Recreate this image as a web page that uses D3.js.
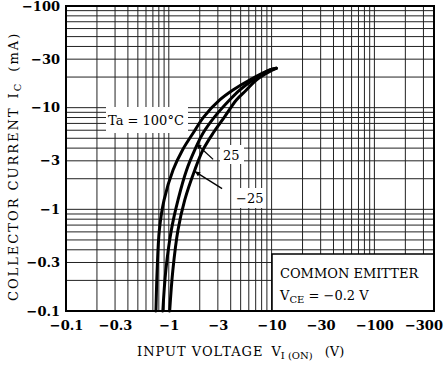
<!DOCTYPE html>
<html><head><meta charset="utf-8">
<script src="https://cdn.jsdelivr.net/npm/d3@7"></script>
<style>body{margin:0;background:#fff}</style>
</head><body>
<script>
const W = 444, H = 371;

// tick labels (magnitudes; drawn with a minus sign)
const xTicks = [0.1, 0.3, 1, 3, 10, 30, 100, 300];
const yTicks = [0.1, 0.3, 1, 3, 10, 30, 100];

// curves: |V_I(ON)| in V, |I_C| in mA
const v100 = [0.75, 0.77, 0.81, 0.9, 1.1, 1.36, 1.72, 2.2, 3.13, 4.21, 6.11, 9.57, 11.1];
const i100 = [0.1, 0.25, 0.63, 1.24, 2.44, 3.84, 5.6, 8.16, 11.9, 14.9, 18.7, 23.5, 24.4];
const v25 = [0.875, 0.935, 1.06, 1.23, 1.49, 1.79, 2.15, 2.8, 3.9, 4.89, 6.58, 9.2, 11.1];
const i25 = [0.1, 0.25, 0.63, 1.24, 2.44, 3.84, 5.6, 8.16, 11.9, 14.9, 18.7, 23.0, 24.4];
const vm25 = [1.02, 1.094, 1.23, 1.43, 1.79, 2.15, 2.69, 3.5, 4.54, 5.68, 7.1, 10.0, 11.1];
const im25 = [0.1, 0.25, 0.63, 1.24, 2.44, 3.84, 5.6, 8.16, 11.9, 14.9, 18.7, 23.2, 24.4];

const svg = d3.select("body").append("svg")
  .attr("width", W).attr("height", H)
  .style("font-family", "'DejaVu Serif', serif");

const x = d3.scaleLog().domain([0.1, 380]).range([66, 434]);
const y = d3.scaleLog().domain([0.1, 100]).range([311, 6]);

// log grid, 1..9 in every decade
let gx = [], gy = [];
for (let d of [0.1, 1, 10, 100]) for (let k = 1; k <= 9; k++) if (d * k <= 380) gx.push(d * k);
for (let d of [0.1, 1, 10]) for (let k = 1; k <= 9; k++) gy.push(d * k);
gy.push(100);

svg.append("g").selectAll("line").data(gx).join("line")
  .attr("x1", d => x(d)).attr("x2", d => x(d))
  .attr("y1", y(0.1)).attr("y2", y(100))
  .attr("stroke", "#222").attr("stroke-width", 1);
svg.append("g").selectAll("line").data(gy).join("line")
  .attr("y1", d => y(d)).attr("y2", d => y(d))
  .attr("x1", x(0.1)).attr("x2", x(380))
  .attr("stroke", "#222").attr("stroke-width", 1);

// white label boxes
const boxes = [
  [106, 107, 82, 26],
  [220, 145, 24, 19],
  [233, 188, 33, 20]
];
svg.append("g").selectAll("rect").data(boxes).join("rect")
  .attr("x", d => d[0]).attr("y", d => d[1]).attr("width", d => d[2]).attr("height", d => d[3])
  .attr("fill", "#fff");

// common emitter box
svg.append("rect").attr("x", 272).attr("y", 254)
  .attr("width", x(380) - 272).attr("height", y(0.1) - 254)
  .attr("fill", "#fff").attr("stroke", "#000").attr("stroke-width", 1.5);

// frame
svg.append("rect").attr("x", x(0.1)).attr("y", y(100))
  .attr("width", x(380) - x(0.1)).attr("height", y(0.1) - y(100))
  .attr("fill", "none").attr("stroke", "#000").attr("stroke-width", 2);

// curves
const line = d3.line().x(d => x(d[0])).y(d => y(d[1])).curve(d3.curveCatmullRom.alpha(0.5));
const curves = [d3.zip(v100, i100), d3.zip(v25, i25), d3.zip(vm25, im25)];
svg.append("g").selectAll("path").data(curves).join("path")
  .attr("d", line).attr("fill", "none").attr("stroke", "#000")
  .attr("stroke-width", 3).attr("stroke-linecap", "round");

// axes
const fmt = d => "\u2212" + d;
const ax = svg.append("g").attr("transform", `translate(0,${y(0.1)})`)
  .call(d3.axisBottom(x).tickValues(xTicks).tickFormat(fmt).tickSize(0).tickPadding(10));
const ay = svg.append("g").attr("transform", `translate(${x(0.1)},0)`)
  .call(d3.axisLeft(y).tickValues(yTicks).tickFormat(fmt).tickSize(0).tickPadding(6));
for (const a of [ax, ay]) {
  a.select(".domain").remove();
  a.selectAll("text").attr("font-family", "'DejaVu Serif', serif")
    .attr("font-size", 13).attr("font-weight", "bold").attr("fill", "#000");
}

// annotations
svg.append("text").attr("x", 108).attr("y", 125).attr("font-size", 13)
  .text("Ta = 100\u00b0C");
svg.append("text").attr("x", 223).attr("y", 160).attr("font-size", 13).text("25");
svg.append("text").attr("x", 236).attr("y", 203).attr("font-size", 13).text("\u221225");

const arrows = [
  [[2.7, 3.1], [1.86, 4.4]],
  [[3.3, 1.6], [1.8, 2.35]]
];
svg.append("defs").append("marker").attr("id", "ah")
  .attr("viewBox", "0 0 10 10").attr("refX", 10).attr("refY", 5)
  .attr("markerWidth", 7).attr("markerHeight", 5).attr("orient", "auto")
  .attr("markerUnits", "userSpaceOnUse")
  .append("path").attr("d", "M0,0L10,5L0,10Z").attr("fill", "#000");
svg.append("g").selectAll("line").data(arrows).join("line")
  .attr("x1", d => x(d[0][0])).attr("y1", d => y(d[0][1]))
  .attr("x2", d => x(d[1][0])).attr("y2", d => y(d[1][1]))
  .attr("stroke", "#000").attr("stroke-width", 1.3).attr("marker-end", "url(#ah)");

svg.append("text").attr("x", 280).attr("y", 278).attr("font-size", 13)
  .text("COMMON EMITTER");
const vce = svg.append("text").attr("x", 280).attr("y", 300).attr("font-size", 13);
vce.append("tspan").text("V");
vce.append("tspan").attr("font-size", 10).attr("dy", 3).text("CE");
vce.append("tspan").attr("dy", -3).text(" = \u22120.2 V");

// axis titles
const xt = svg.append("text").attr("x", 137).attr("y", 356).attr("font-size", 13);
xt.append("tspan").attr("letter-spacing", 1).text("INPUT VOLTAGE");
xt.append("tspan").attr("dx", 8).text("V");
xt.append("tspan").attr("font-size", 10).attr("dy", 3).text("I (ON)");
xt.append("tspan").attr("dy", -3).attr("dx", 12).text("(V)");

const yt = svg.append("text").attr("transform", "translate(18,301) rotate(-90)")
  .attr("font-size", 13).attr("letter-spacing", 2);
yt.append("tspan").text("COLLECTOR CURRENT");
yt.append("tspan").attr("dx", 8).text("I");
yt.append("tspan").attr("font-size", 10).attr("dy", 3).text("C");
yt.append("tspan").attr("dy", -3).attr("dx", 10).text("(mA)");
</script>
</body></html>
